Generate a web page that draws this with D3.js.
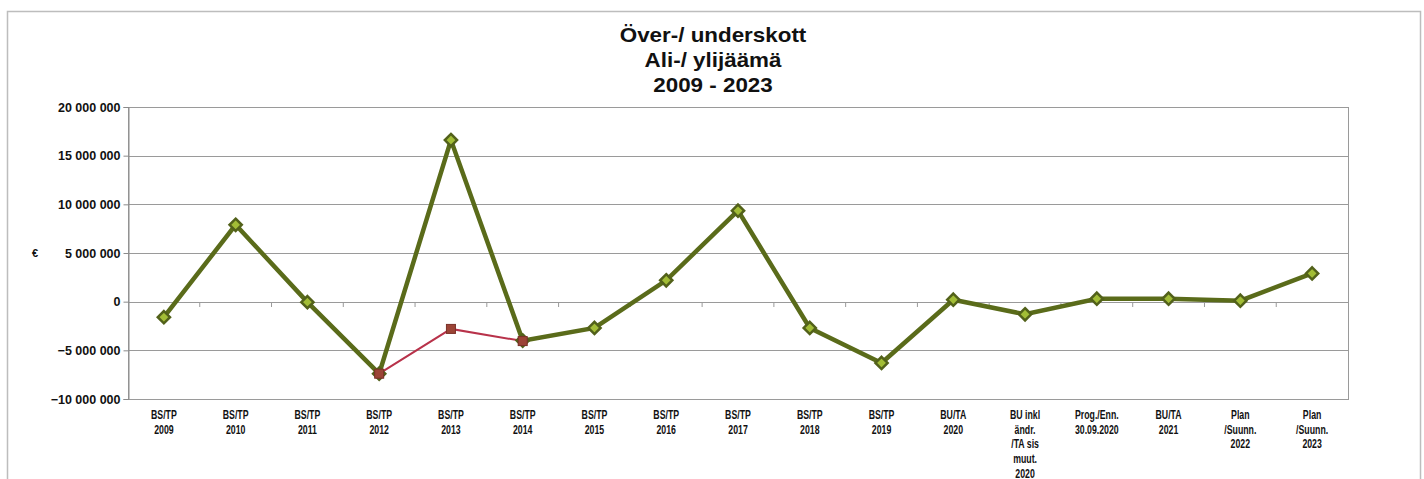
<!DOCTYPE html>
<html>
<head>
<meta charset="utf-8">
<script src="https://cdn.jsdelivr.net/npm/d3@7"></script>
<style>
html,body{margin:0;padding:0;background:#fff;}
svg{display:block;font-family:"Liberation Sans",Arial,sans-serif;}
</style>
</head>
<body>
<svg id="chart" width="1424" height="479"></svg>
<script>
const categories = [
  ["BS/TP","2009"],["BS/TP","2010"],["BS/TP","2011"],["BS/TP","2012"],["BS/TP","2013"],
  ["BS/TP","2014"],["BS/TP","2015"],["BS/TP","2016"],["BS/TP","2017"],["BS/TP","2018"],
  ["BS/TP","2019"],["BU/TA","2020"],["BU inkl","ändr.","/TA sis","muut.","2020"],
  ["Prog./Enn.","30.09.2020"],["BU/TA","2021"],["Plan","/Suunn.","2022"],["Plan","/Suunn.","2023"]
];
const mainValues = [-1600000, 7900000, -50000, -7400000, 16600000, -4000000, -2700000, 2200000,
  9350000, -2700000, -6300000, 200000, -1300000, 300000, 300000, 100000, 2900000];
const altValues = [null, null, null, -7400000, -2800000, -4050000, null, null, null, null,
  null, null, null, null, null, null, null];
const yTicks = [-10000000, -5000000, 0, 5000000, 10000000, 15000000, 20000000];
const titleLines = ["Över-/ underskott", "Ali-/ ylijäämä", "2009 - 2023"];
const yAxisLabel = "€";

const svg = d3.select("#chart");
const m = {left:128, right:1348, top:107, bottom:399};

// outer frame
svg.append("rect").attr("x",7.5).attr("y",11.5).attr("width",1413).attr("height",480)
  .attr("fill","#fff").attr("stroke","#bdbdbd").attr("stroke-width",1.5);

const x = d3.scaleBand().domain(categories.map((d,i)=>i)).range([m.left,m.right]);
const y = d3.scaleLinear().domain([-10000000,20000000]).range([m.bottom,m.top]);

// grid
svg.append("g").selectAll("line").data(yTicks).join("line")
  .attr("x1",m.left).attr("x2",m.right)
  .attr("y1",d=>Math.round(y(d))+0.5).attr("y2",d=>Math.round(y(d))+0.5)
  .attr("stroke","#9a9a9a").attr("stroke-width",1);
// plot border
svg.append("rect").attr("x",m.left+0.5).attr("y",m.top+0.5)
  .attr("width",m.right-m.left).attr("height",m.bottom-m.top)
  .attr("fill","none").attr("stroke","#9a9a9a").attr("stroke-width",1);

// y axis
const fmt = d => d3.format(",")(d).replace(/,/g," ");
const yAxis = d3.axisLeft(y).tickValues(yTicks).tickFormat(fmt).tickSize(5).tickPadding(3);
const gy = svg.append("g").attr("transform",`translate(${m.left+0.5},0)`).call(yAxis);
gy.select(".domain").attr("stroke","#8a8a8a");
gy.selectAll(".tick line").attr("stroke","#8a8a8a");
gy.selectAll("text").attr("font-size","12.5px").attr("font-weight","bold").attr("fill","#111")
  .attr("font-family","'Liberation Sans',Arial,sans-serif");

// small category ticks on zero line
svg.append("g").selectAll("line").data(d3.range(1,categories.length)).join("line")
  .attr("x1",i=>m.left+i*x.step()).attr("x2",i=>m.left+i*x.step())
  .attr("y1",Math.round(y(0))).attr("y2",Math.round(y(0))+5)
  .attr("stroke","#9a9a9a");

// x labels (condensed)
const gx = svg.append("g");
categories.forEach((lines,i)=>{
  const g = gx.append("g").attr("transform",`translate(${x(i)+x.bandwidth()/2},419) scale(0.73,1)`);
  const t = g.append("text").attr("x",0).attr("y",0)
    .attr("text-anchor","middle").attr("font-size","12px").attr("font-weight","bold").attr("fill","#111");
  lines.forEach((l,j)=>t.append("tspan").attr("x",0).attr("dy",j===0?0:14.7).text(l));
});

// y label
svg.append("text").attr("x",35).attr("y",257).attr("text-anchor","middle")
  .attr("font-size","11px").attr("font-weight","bold").attr("fill","#111").text(yAxisLabel);

// title
titleLines.forEach((t,i)=>{
  svg.append("g").attr("transform",`translate(713,${42+i*25}) scale(1.12,1)`)
    .append("text").attr("x",0).attr("y",0).attr("text-anchor","middle")
    .attr("font-size","20px").attr("font-weight","bold").attr("fill","#111").text(t);
});

const cx = i => x(i)+x.bandwidth()/2;

// main line
const line = d3.line().defined(d=>d.v!==null).x(d=>cx(d.i)).y(d=>y(d.v));
const mainData = mainValues.map((v,i)=>({i,v}));
svg.append("path").datum(mainData).attr("d",line).attr("fill","none")
  .attr("stroke","#5a6b1a").attr("stroke-width",4.5).attr("stroke-linejoin","miter");

// alt line
const altData = altValues.map((v,i)=>({i,v})).filter(d=>d.v!==null);
svg.append("path").datum(altData).attr("d",line).attr("fill","none")
  .attr("stroke","#b8324a").attr("stroke-width",2);

// main markers (diamonds)
const diamond = d3.symbol().type(d3.symbolDiamond2).size(95);
svg.append("g").selectAll("path").data(mainData).join("path")
  .attr("transform",d=>`translate(${cx(d.i)},${y(d.v)})`)
  .attr("d",diamond).attr("fill","#a2bd36").attr("stroke","#52611a").attr("stroke-width",2.5);

// alt markers (squares)
svg.append("g").selectAll("rect").data(altData).join("rect")
  .attr("x",d=>cx(d.i)-4.5).attr("y",d=>y(d.v)-4.5).attr("width",9).attr("height",9)
  .attr("fill","#9c4436").attr("stroke","#7a3028").attr("stroke-width",1);
</script>
</body>
</html>
